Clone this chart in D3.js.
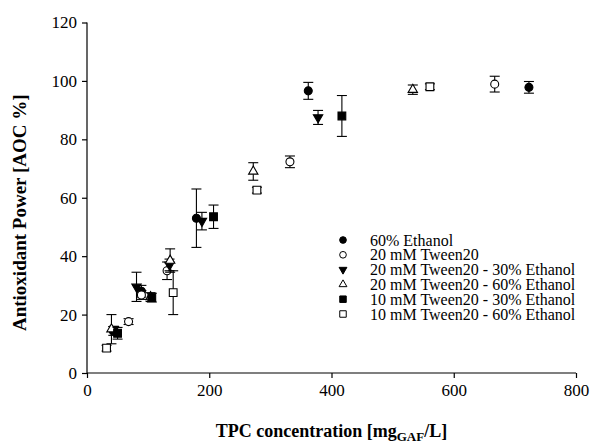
<!DOCTYPE html>
<html>
<head>
<meta charset="utf-8">
<script src="https://cdn.jsdelivr.net/npm/d3@7"></script>
<style>
  body { margin: 0; background: #fff; }
  svg text { font-family: "Liberation Serif", "Times New Roman", serif !important; }
</style>
</head>
<body>
<div id="chart"></div>
<script>
// x = TPC concentration (mgGAE/L), y = AOC %, e = error (+/-)
const seriesNames = [
  "60% Ethanol",
  "20 mM Tween20",
  "20 mM Tween20 - 30% Ethanol",
  "20 mM Tween20 - 60% Ethanol",
  "10 mM Tween20 - 30% Ethanol",
  "10 mM Tween20 - 60% Ethanol"
];
const ethanol60 = [
  { x: 43, y: 14.4, e: 1.5 }, { x: 89, y: 28, e: 2 }, { x: 179, y: 53, e: 10 },
  { x: 362, y: 96.6, e: 2.9 }, { x: 723, y: 97.8, e: 2 }
];
const tween20 = [
  { x: 68, y: 17.6, e: 1 }, { x: 89, y: 26.7, e: 1.5 }, { x: 131, y: 35, e: 3 },
  { x: 332, y: 72.3, e: 2 }, { x: 667, y: 98.9, e: 2.7 }
];
const tween20eth30 = [
  { x: 44, y: 15, e: 1 }, { x: 81, y: 29.5, e: 5 }, { x: 135, y: 37, e: 2 },
  { x: 188, y: 52, e: 3 }, { x: 378, y: 87.5, e: 2.4 }
];
const tween20eth60 = [
  { x: 40, y: 15, e: 5 }, { x: 104, y: 26, e: 1.5 }, { x: 136, y: 38.5, e: 4 },
  { x: 272, y: 69, e: 3 }, { x: 533, y: 97, e: 1.6 }
];
const tween10eth30 = [
  { x: 50, y: 13.6, e: 2 }, { x: 106, y: 25.8, e: 1.5 }, { x: 207, y: 53.5, e: 4 },
  { x: 417, y: 88, e: 7 }
];
const tween10eth60 = [
  { x: 32, y: 8.5, e: 1 }, { x: 141, y: 27.5, e: 7.5 }, { x: 278, y: 62.6, e: 1 },
  { x: 561, y: 98, e: 1 }
];
const xTicks = [0, 200, 400, 600, 800];
const yTicks = [0, 20, 40, 60, 80, 100, 120];

const allSeries = [ethanol60, tween20, tween20eth30, tween20eth60, tween10eth30, tween10eth60];
const markers = [
  { type: d3.symbolCircle, fill: "#000", rotate: 0 },
  { type: d3.symbolCircle, fill: "#fff", rotate: 0 },
  { type: d3.symbolTriangle, fill: "#000", rotate: 180 },
  { type: d3.symbolTriangle, fill: "#fff", rotate: 0 },
  { type: d3.symbolSquare, fill: "#000", rotate: 0 },
  { type: d3.symbolSquare, fill: "#fff", rotate: 0 }
];
const sizes = [50, 50, 38, 38, 60, 60];

const width = 591, height = 445;
const svg = d3.select("#chart").append("svg")
  .attr("width", width).attr("height", height);

const x = d3.scaleLinear().domain([0, 800]).range([87, 576]);
const y = d3.scaleLinear().domain([0, 120]).range([373, 22.5]);

// axes
const xAxis = svg.append("g")
  .attr("transform", `translate(0,${y(0)})`)
  .call(d3.axisBottom(x).tickValues(xTicks).tickSize(5).tickPadding(6));
const yAxis = svg.append("g")
  .attr("transform", `translate(${x(0)},0)`)
  .call(d3.axisLeft(y).tickValues(yTicks).tickSize(5).tickPadding(5));
[xAxis, yAxis].forEach(g => {
  g.attr("font-family", null);
  g.select(".domain").attr("stroke", "#000").attr("stroke-width", 1.2);
  g.selectAll(".tick line").attr("stroke", "#000").attr("stroke-width", 1.2);
  g.selectAll(".tick text").attr("fill", "#000").attr("font-size", 17);
});
xAxis.select(".domain").attr("d", `M${x(0)},0H${x(800)}`);
yAxis.select(".domain").attr("d", `M0,${y(0)}V${y(120)}`);

// points with error bars
const plot = svg.append("g");
allSeries.forEach((data, i) => {
  const g = plot.append("g");
  const bars = g.selectAll("g.err").data(data).join("g").attr("class", "err")
    .attr("stroke", "#000").attr("stroke-width", 1.1);
  bars.append("line")
    .attr("x1", d => x(d.x)).attr("x2", d => x(d.x))
    .attr("y1", d => y(d.y - d.e)).attr("y2", d => y(d.y + d.e));
  bars.append("line")
    .attr("x1", d => x(d.x) - 5).attr("x2", d => x(d.x) + 5)
    .attr("y1", d => y(d.y + d.e)).attr("y2", d => y(d.y + d.e));
  bars.append("line")
    .attr("x1", d => x(d.x) - 5).attr("x2", d => x(d.x) + 5)
    .attr("y1", d => y(d.y - d.e)).attr("y2", d => y(d.y - d.e));
  const m = markers[i];
  g.selectAll("path.pt").data(data).join("path").attr("class", "pt")
    .attr("d", d3.symbol().type(m.type).size(sizes[i]))
    .attr("transform", d => `translate(${x(d.x)},${y(d.y)}) rotate(${m.rotate})`)
    .attr("fill", m.fill).attr("stroke", "#000").attr("stroke-width", 1.1);
});

// legend
const legend = svg.append("g");
seriesNames.forEach((name, i) => {
  const ly = 240 + i * 14.8;
  const m = markers[i];
  legend.append("path")
    .attr("d", d3.symbol().type(m.type).size(sizes[i] * 0.7))
    .attr("transform", `translate(343,${ly}) rotate(${m.rotate})`)
    .attr("fill", m.fill).attr("stroke", "#000").attr("stroke-width", 1);
  legend.append("text")
    .attr("x", 370).attr("y", ly).attr("dy", "0.35em")
    .attr("font-size", 16).attr("fill", "#000")
    .text(name);
});

// axis titles
svg.append("text")
  .attr("transform", `translate(26,${(y(0) + y(120)) / 2 + 15}) rotate(-90)`)
  .attr("text-anchor", "middle")
  .attr("font-size", 19).attr("font-weight", "bold")
  .text("Antioxidant Power [AOC %]");

const xt = svg.append("text")
  .attr("x", (x(0) + x(800)) / 2).attr("y", 437)
  .attr("text-anchor", "middle")
  .attr("font-size", 18).attr("font-weight", "bold");
xt.append("tspan").text("TPC concentration [mg");
xt.append("tspan").attr("font-size", 13).attr("dy", 4).text("GAF");
xt.append("tspan").attr("dy", -4).text("/L]");
</script>
</body>
</html>
